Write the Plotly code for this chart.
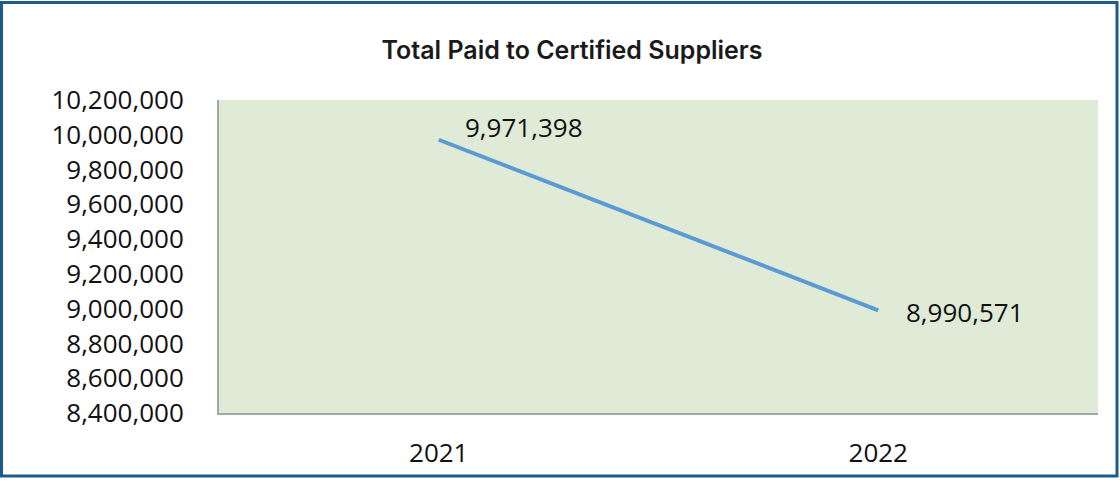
import plotly.graph_objects as go

years = ["2021", "2022"]
totals = [9971398, 8990571]
y_ticks = [8400000, 8600000, 8800000, 9000000, 9200000, 9400000, 9600000, 9800000, 10000000, 10200000]
value_labels = ["9,971,398", "8,990,571"]

W, H = 1120, 482
L, R, T, B = 219, 22, 100, 66
pw, ph = W - L - R, H - T - B

fig = go.Figure()
fig.add_trace(go.Scatter(
    x=years, y=totals, mode="lines",
    line=dict(color="#5b9bd5", width=4),
    hoverinfo="skip", showlegend=False,
))

lab_font = dict(family="Open Sans", size=26, color="#111")
fig.add_annotation(x=0, y=totals[0], text=value_labels[0], showarrow=False,
                   xanchor="left", yanchor="middle", xshift=24, yshift=13,
                   font=lab_font)
fig.add_annotation(x=1, y=totals[1], text=value_labels[1], showarrow=False,
                   xanchor="left", yanchor="middle", xshift=26, yshift=-2,
                   font=lab_font)

def px(x):
    return (x - L) / pw

def py(y):
    return (H - B - y) / ph

fig.add_shape(type="rect", xref="paper", yref="paper",
              x0=px(1.5), x1=px(1117), y0=py(479.5), y1=py(1.5),
              line=dict(color="#1d5c8a", width=3), fillcolor="rgba(0,0,0,0)", layer="above")

fig.update_layout(
    width=W, height=H,
    margin=dict(l=L, r=R, t=T, b=B),
    paper_bgcolor="white",
    plot_bgcolor="#dfebd6",
    title=dict(text="Total Paid to Certified Suppliers", x=572 / W, xanchor="center",
               y=1 - 50 / H, yanchor="middle",
               font=dict(family="Inter", size=25, color="#1a1a1a", weight=600)),
    xaxis=dict(type="category", range=[-0.5, 1.5], showgrid=False, zeroline=False,
               showline=True, linecolor="#a6a6a6", linewidth=2, ticks="",
               tickfont=lab_font, ticklabelstandoff=16),
    yaxis=dict(range=[8400000, 10200000], tickvals=y_ticks, tickformat=",d",
               showgrid=False, zeroline=False, showline=True, linecolor="#a6a6a6",
               linewidth=2, ticks="",
               tickfont=lab_font, ticklabelstandoff=28),
)

fig.write_html(
    "out.html",
    config={"displayModeBar": False},
    post_script=(
        "document.body.style.margin='0';"
        "document.body.style.overflow='hidden';"
        "document.documentElement.style.overflow='hidden';"
    ),
)
